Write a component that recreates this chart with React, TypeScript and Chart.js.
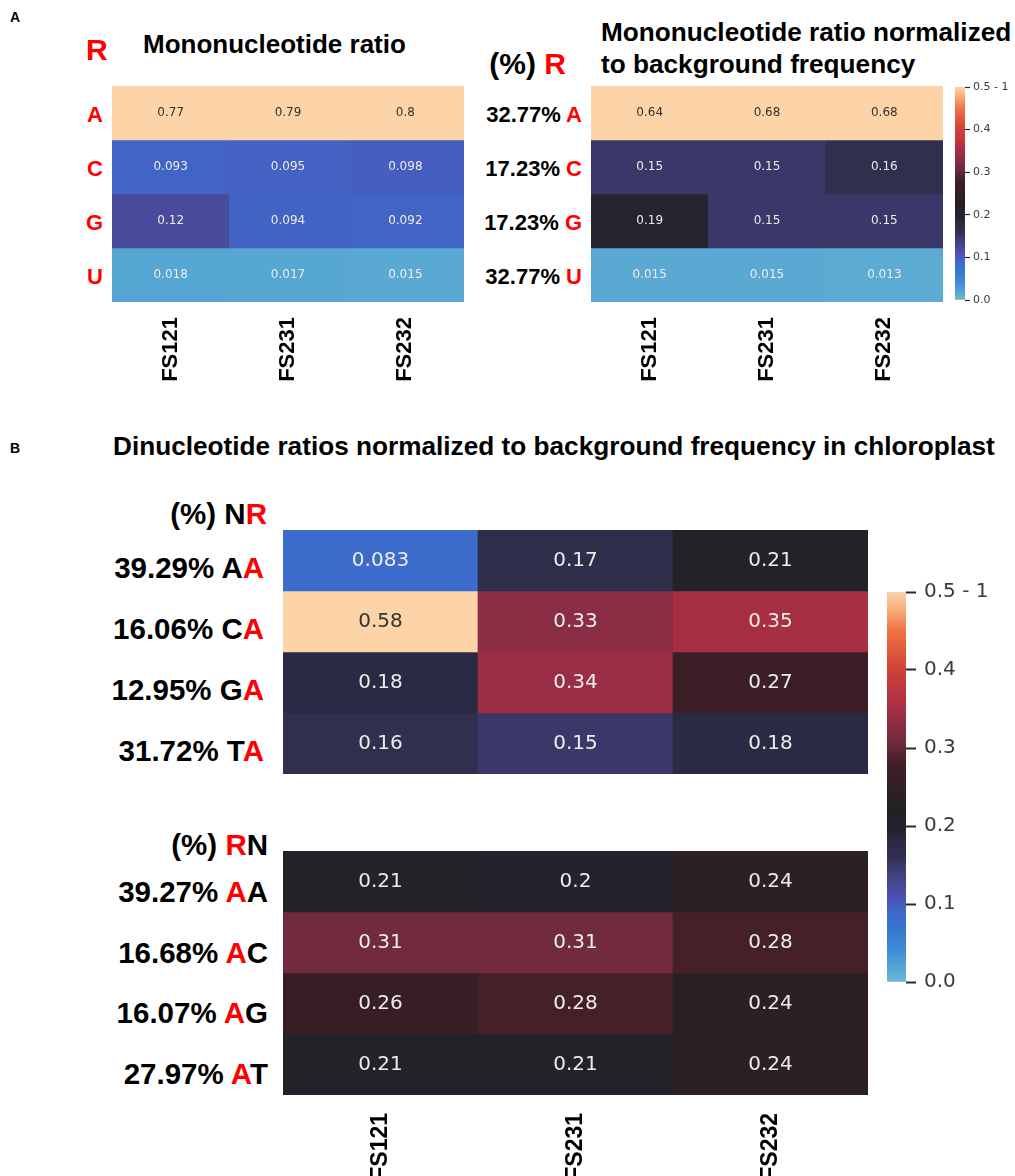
import { useEffect, useRef } from "react";
import { Chart, registerables } from "chart.js";

Chart.register(...registerables);

// ---- data ----
const samples = ["FS121", "FS231", "FS232"];

const monoBases = ["A", "C", "G", "U"];
const monoBackground = ["32.77%", "17.23%", "17.23%", "32.77%"];
// rows follow monoBases, columns follow samples
const monoRatio = [
  [0.77, 0.79, 0.8],
  [0.093, 0.095, 0.098],
  [0.12, 0.094, 0.092],
  [0.018, 0.017, 0.015],
];
const monoNormalized = [
  [0.64, 0.68, 0.68],
  [0.15, 0.15, 0.16],
  [0.19, 0.15, 0.15],
  [0.015, 0.015, 0.013],
];

const nrPairs = ["AA", "CA", "GA", "TA"];
const nrBackground = ["39.29%", "16.06%", "12.95%", "31.72%"];
const nrRatio = [
  [0.083, 0.17, 0.21],
  [0.58, 0.33, 0.35],
  [0.18, 0.34, 0.27],
  [0.16, 0.15, 0.18],
];

const rnPairs = ["AA", "AC", "AG", "AT"];
const rnBackground = ["39.27%", "16.68%", "16.07%", "27.97%"];
const rnRatio = [
  [0.21, 0.2, 0.24],
  [0.31, 0.31, 0.28],
  [0.26, 0.28, 0.24],
  [0.21, 0.21, 0.24],
];

const colorbarTicks = [0, 0.1, 0.2, 0.3, 0.4, 0.5];
const colorbarMax = 0.5;

// ---- colour scale (ice-to-fire, clipped at 0.5) ----
const cmapStops = [0, 0.04, 0.07, 0.085, 0.095, 0.105, 0.12, 0.14, 0.15, 0.16, 0.18, 0.19, 0.2, 0.215, 0.24, 0.26, 0.275, 0.29, 0.31, 0.33, 0.345, 0.355, 0.4, 0.45, 0.48, 0.5];
const cmapColors = ["#6bb8d1", "#3d8fd5", "#3774cf", "#3c6bcb", "#4462c3", "#4a56b8", "#4a4a9c", "#403f7a", "#3a3868", "#302f4e", "#2b2a45", "#26252f", "#23232d", "#212126", "#2b2123", "#371e25", "#3f1e26", "#52232e", "#722b3e", "#8a2c43", "#a02e43", "#ab3044", "#d0403a", "#ef7340", "#f9b27f", "#fdd3a8"];

const RED = "#ff0000";
const LABEL_FONT = "'Liberation Sans', Arial, Helvetica, sans-serif";
const NUM_FONT = "'DejaVu Sans', sans-serif";

function hexToRgb(h: string) {
  const n = parseInt(h.slice(1), 16);
  return [(n >> 16) & 255, (n >> 8) & 255, n & 255];
}

function rgbFor(v: number) {
  const t = Math.min(Math.max(v, 0), colorbarMax);
  let i = 0;
  while (i < cmapStops.length - 2 && t > cmapStops[i + 1]) i++;
  const a = hexToRgb(cmapColors[i]);
  const b = hexToRgb(cmapColors[i + 1]);
  const f = (t - cmapStops[i]) / (cmapStops[i + 1] - cmapStops[i]);
  return a.map((x, k) => Math.round(x + (b[k] - x) * f));
}

function colorFor(v: number) {
  const [r, g, b] = rgbFor(v);
  return `rgb(${r},${g},${b})`;
}

function textColorFor(v: number) {
  const lin = rgbFor(v).map((c) => {
    const s = c / 255;
    return s <= 0.03928 ? s / 12.92 : Math.pow((s + 0.055) / 1.055, 2.4);
  });
  const lum = 0.2126 * lin[0] + 0.7152 * lin[1] + 0.0722 * lin[2];
  return lum > 0.408 ? "#333333" : "#ececec";
}

function fmt(v: number) {
  return String(Number(v.toPrecision(2)));
}

// ---- heatmap ----
type HeatmapProps = {
  values: number[][];
  left: number;
  top: number;
  width: number;
  height: number;
  cellFont: number;
  showLabels: boolean;
  labelFont?: number;
  labelGap?: number;
  axisHeight?: number;
};

function Heatmap(p: HeatmapProps) {
  const ref = useRef<HTMLCanvasElement>(null);
  const axisHeight = p.showLabels ? p.axisHeight ?? 100 : 0;
  useEffect(() => {
    const values = p.values;
    const cellText = {
      id: "cellText",
      afterDatasetsDraw(chart: any) {
        const ctx = chart.ctx;
        ctx.save();
        ctx.font = `${p.cellFont}px ${NUM_FONT}`;
        ctx.textAlign = "center";
        ctx.textBaseline = "middle";
        values.forEach((row, r) => {
          chart.getDatasetMeta(r).data.forEach((bar: any, c: number) => {
            const v = row[c];
            const { x, y, base } = bar.getProps(["x", "y", "base"], true);
            ctx.fillStyle = textColorFor(v);
            ctx.fillText(fmt(v), x, (y + base) / 2);
          });
        });
        ctx.restore();
      },
    };
    const chart = new Chart(ref.current!, {
      type: "bar",
      data: {
        labels: samples,
        datasets: values.map((row, r) => ({
          data: row.map(() => [r, r + 1]),
          backgroundColor: row.map((v) => colorFor(v)),
          borderWidth: 0,
          barPercentage: 1,
          categoryPercentage: 1,
          grouped: false,
        })),
      } as any,
      options: {
        responsive: false,
        animation: false,
        layout: { padding: 0 },
        plugins: { legend: { display: false }, tooltip: { enabled: false } },
        scales: {
          x: p.showLabels
            ? {
                grid: { display: false, drawTicks: false },
                border: { display: false },
                ticks: {
                  minRotation: 90,
                  maxRotation: 90,
                  padding: p.labelGap,
                  color: "#000",
                  font: { family: LABEL_FONT, weight: "bold", size: p.labelFont },
                },
                afterFit: (s: any) => {
                  s.height = axisHeight;
                },
              }
            : { display: false },
          y: { display: false, min: 0, max: values.length, reverse: true },
        },
      } as any,
      plugins: [cellText],
    });
    return () => chart.destroy();
  }, []);
  return (
    <canvas
      ref={ref}
      width={p.width}
      height={p.height + axisHeight}
      style={{ position: "absolute", left: p.left, top: p.top, width: p.width, height: p.height + axisHeight }}
    />
  );
}

// ---- colour bar ----
type ColorbarProps = {
  left: number;
  top: number;
  barWidth: number;
  barHeight: number;
  labelWidth: number;
  fontSize: number;
  tickLength: number;
  tickWidth: number;
  labelGap: number;
};

function Colorbar(p: ColorbarProps) {
  const ref = useRef<HTMLCanvasElement>(null);
  // keep the layout padding larger than the half-label room the axis asks for
  const pad = Math.ceil(p.fontSize * 0.6 + p.labelGap + 4);
  useEffect(() => {
    const chart = new Chart(ref.current!, {
      type: "bar",
      data: {
        labels: [""],
        datasets: [
          {
            data: [[0, colorbarMax]],
            backgroundColor: (c: any) => {
              const area = c.chart.chartArea;
              if (!area) return colorFor(0.25);
              const g = c.chart.ctx.createLinearGradient(0, area.bottom, 0, area.top);
              cmapStops.forEach((s, i) => g.addColorStop(s / colorbarMax, cmapColors[i]));
              return g;
            },
            borderWidth: 0,
            barPercentage: 1,
            categoryPercentage: 1,
          },
        ],
      } as any,
      options: {
        responsive: false,
        animation: false,
        layout: { padding: { top: pad, bottom: pad, left: 0, right: 0 } },
        plugins: { legend: { display: false }, tooltip: { enabled: false } },
        scales: {
          x: { display: false },
          y: {
            position: "right",
            min: 0,
            max: colorbarMax,
            afterBuildTicks: (s: any) => {
              s.ticks = colorbarTicks.map((v) => ({ value: v }));
            },
            ticks: {
              padding: p.labelGap,
              color: "#3a3a3a",
              font: { family: NUM_FONT, size: p.fontSize },
              callback: (v: any) => (Number(v) >= colorbarMax ? "0.5 - 1" : Number(v).toFixed(1)),
            },
            grid: {
              drawOnChartArea: false,
              drawTicks: true,
              tickLength: p.tickLength,
              tickWidth: p.tickWidth,
              tickColor: "#2a2a2a",
            },
            border: { display: false },
            afterFit: (s: any) => {
              s.width = p.labelWidth;
            },
          },
        },
      } as any,
    });
    return () => chart.destroy();
  }, []);
  const w = p.barWidth + p.labelWidth;
  const h = p.barHeight + 2 * pad;
  return (
    <canvas
      ref={ref}
      width={w}
      height={h}
      style={{ position: "absolute", left: p.left, top: p.top - pad, width: w, height: h }}
    />
  );
}

// ---- text ----
function Txt(props: { x: number; y: number; size: number; align?: "left" | "right"; color?: string; children: any }) {
  const { x, y, size, align = "left", color = "#000" } = props;
  const style: any = {
    position: "absolute",
    top: y - 0.8465 * size,
    fontSize: size,
    lineHeight: `${size}px`,
    fontWeight: "bold",
    whiteSpace: "nowrap",
    color,
    fontFamily: LABEL_FONT,
  };
  if (align === "right") style.right = 1015 - x;
  else style.left = x;
  return <div style={style}>{props.children}</div>;
}

const red = (s: string) => <span style={{ color: RED }}>{s}</span>;

const monoRowBase = [123, 177, 231, 285];
const nrRowBase = [578, 639, 700, 761];
const rnRowBase = [902, 963, 1023, 1084];

export default function App() {
  return (
    <div
      style={{
        position: "absolute",
        left: 0,
        top: 0,
        width: 1015,
        height: 1176,
        overflow: "hidden",
        background: "#ffffff",
      }}
    >
      {/* Panel A */}
      <Txt x={10} y={22} size={14}>A</Txt>
      <Txt x={86} y={60} size={30} color={RED}>R</Txt>
      <Txt x={143} y={53} size={26}>Mononucleotide ratio</Txt>
      <Txt x={566} y={74} size={30} align="right">(%) {red("R")}</Txt>
      <Txt x={601} y={41} size={26.2}>Mononucleotide ratio normalized</Txt>
      <Txt x={601} y={73} size={26.2}>to background frequency</Txt>

      {monoBases.map((b, i) => (
        <Txt key={"ml" + b} x={103} y={monoRowBase[i]} size={22} align="right" color={RED}>
          {b}
        </Txt>
      ))}
      {monoBases.map((b, i) => (
        <Txt key={"mr" + b} x={582} y={monoRowBase[i]} size={22} align="right">
          {monoBackground[i]} {red(b)}
        </Txt>
      ))}

      <Heatmap values={monoRatio} left={112} top={86} width={352} height={216} cellFont={12} showLabels labelFont={22} labelGap={15} axisHeight={100} />
      <Heatmap values={monoNormalized} left={591} top={86} width={352} height={216} cellFont={12} showLabels labelFont={22} labelGap={15} axisHeight={100} />
      <Colorbar left={955} top={87} barWidth={10} barHeight={213} labelWidth={50} fontSize={11} tickLength={5} tickWidth={1.2} labelGap={3} />

      {/* Panel B */}
      <Txt x={10} y={453} size={14}>B</Txt>
      <Txt x={113} y={455} size={26.2}>Dinucleotide ratios normalized to background frequency in chloroplast</Txt>

      <Txt x={267} y={524} size={29.5} align="right">(%) N{red("R")}</Txt>
      {nrPairs.map((d, i) => (
        <Txt key={"nr" + d} x={264} y={nrRowBase[i]} size={29.5} align="right">
          {nrBackground[i]} {d[0]}
          {red(d[1])}
        </Txt>
      ))}

      <Txt x={268} y={855} size={29.5} align="right">(%) {red("R")}N</Txt>
      {rnPairs.map((d, i) => (
        <Txt key={"rn" + d} x={268} y={rnRowBase[i]} size={29.5} align="right">
          {rnBackground[i]} {red(d[0])}
          {d[1]}
        </Txt>
      ))}

      <Heatmap values={nrRatio} left={283} top={530} width={585} height={244} cellFont={20} showLabels={false} />
      <Heatmap values={rnRatio} left={283} top={851} width={585} height={244} cellFont={20} showLabels labelFont={23} labelGap={18} axisHeight={100} />
      <Colorbar left={887} top={592} barWidth={19} barHeight={390} labelWidth={100} fontSize={20} tickLength={10} tickWidth={2} labelGap={8} />
    </div>
  );
}
